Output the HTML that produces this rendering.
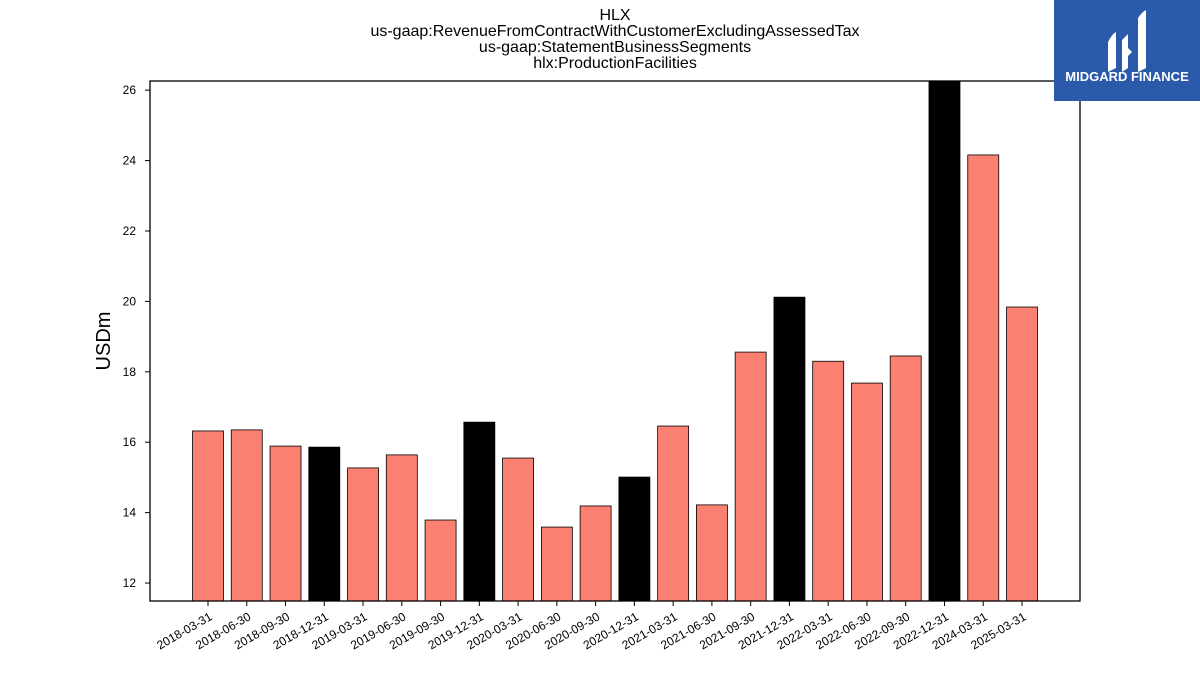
<!DOCTYPE html>
<html><head><meta charset="utf-8"><style>
html,body{margin:0;padding:0;background:#fff;}
svg{display:block;font-family:"Liberation Sans",sans-serif;}
</style></head><body>
<svg id="chart" width="1200" height="675" viewBox="0 0 1200 675">
<g font-size="16" text-anchor="middle" fill="#000">
<text x="615" y="20">HLX</text>
<text x="615" y="36">us-gaap:RevenueFromContractWithCustomerExcludingAssessedTax</text>
<text x="615" y="52">us-gaap:StatementBusinessSegments</text>
<text x="615" y="68">hlx:ProductionFacilities</text>
</g>
<defs><clipPath id="plotclip"><rect x="150" y="81" width="930" height="520"/></clipPath></defs>
<g id="bars" clip-path="url(#plotclip)"></g>
<rect x="150" y="81" width="930" height="520" fill="none" stroke="#000" stroke-width="1.3"/>
<g id="yaxis"></g>
<g id="xaxis"></g>
<text x="110" y="341" font-size="20" text-anchor="middle" transform="rotate(-90 110 341)">USDm</text>
<g>
<rect x="1054" y="0" width="146" height="101" fill="#2b5aab"/>
<path d="M1108 42 q4 -8 8 -10 v36 q-4 2 -8 4 z" fill="#fff"/>
<path d="M1122 40 l6 -6 v34 l-6 4 z M1124 52 l4 -4 l4 4 l-4 4 z" fill="#fff"/>
<path d="M1138 18 q4 -6 8 -8 v58 q-4 2 -8 4 z" fill="#fff"/>
<text x="1127" y="81" font-size="13" font-weight="bold" fill="#fff" text-anchor="middle">MIDGARD FINANCE</text>
</g>
</svg>
<script>
const categories=["2018-03-31","2018-06-30","2018-09-30","2018-12-31","2019-03-31","2019-06-30","2019-09-30","2019-12-31","2020-03-31","2020-06-30","2020-09-30","2020-12-31","2021-03-31","2021-06-30","2021-09-30","2021-12-31","2022-03-31","2022-06-30","2022-09-30","2022-12-31","2024-03-31","2025-03-31"];
const values=[16.32,16.35,15.89,15.86,15.27,15.64,13.79,16.57,15.55,13.59,14.19,15.01,16.46,14.22,18.56,20.12,18.30,17.68,18.45,26.5,24.16,19.84];
const yTicks=[12,14,16,18,20,22,24,26];
const NS="http://www.w3.org/2000/svg";
const yMin=11.49,yMax=26.26,plotTop=81,plotBottom=601;
function y(v){return plotBottom-(v-yMin)/(yMax-yMin)*(plotBottom-plotTop);}
const x0=208,step=(1022-208)/21,bw=31;
function x(i){return x0+i*step;}
const bars=document.getElementById('bars'),xa=document.getElementById('xaxis'),ya=document.getElementById('yaxis');
categories.forEach((c,i)=>{
 const r=document.createElementNS(NS,'rect');
 const h=c.endsWith('12-31');
 r.setAttribute('x',x(i)-bw/2);r.setAttribute('width',bw);
 r.setAttribute('y',y(values[i]));r.setAttribute('height',plotBottom-y(values[i]));
 r.setAttribute('fill',h?'#000':'#fa8072');r.setAttribute('stroke','#000');r.setAttribute('stroke-width','0.8');
 
 
 bars.appendChild(r);
 const t=document.createElementNS(NS,'line');
 t.setAttribute('x1',x(i));t.setAttribute('x2',x(i));t.setAttribute('y1',plotBottom);t.setAttribute('y2',plotBottom+5);t.setAttribute('stroke','#000');
 xa.appendChild(t);
 const l=document.createElementNS(NS,'text');
 l.setAttribute('x',x(i)+5);l.setAttribute('y',plotBottom+18);l.setAttribute('font-size','12');l.setAttribute('text-anchor','end');
 l.setAttribute('transform','rotate(-30 '+(x(i)+5)+' '+(plotBottom+18)+')');
 l.textContent=c;
 
 
 xa.appendChild(l);
});
yTicks.forEach(v=>{
 const t=document.createElementNS(NS,'line');
 t.setAttribute('x1',145);t.setAttribute('x2',150);t.setAttribute('y1',y(v));t.setAttribute('y2',y(v));t.setAttribute('stroke','#000');
 ya.appendChild(t);
 const l=document.createElementNS(NS,'text');
 l.setAttribute('x',136);l.setAttribute('y',y(v)+4);l.setAttribute('font-size','12');l.setAttribute('text-anchor','end');
 l.textContent=v;
 
 
 ya.appendChild(l);
});
</script>
</body></html>
